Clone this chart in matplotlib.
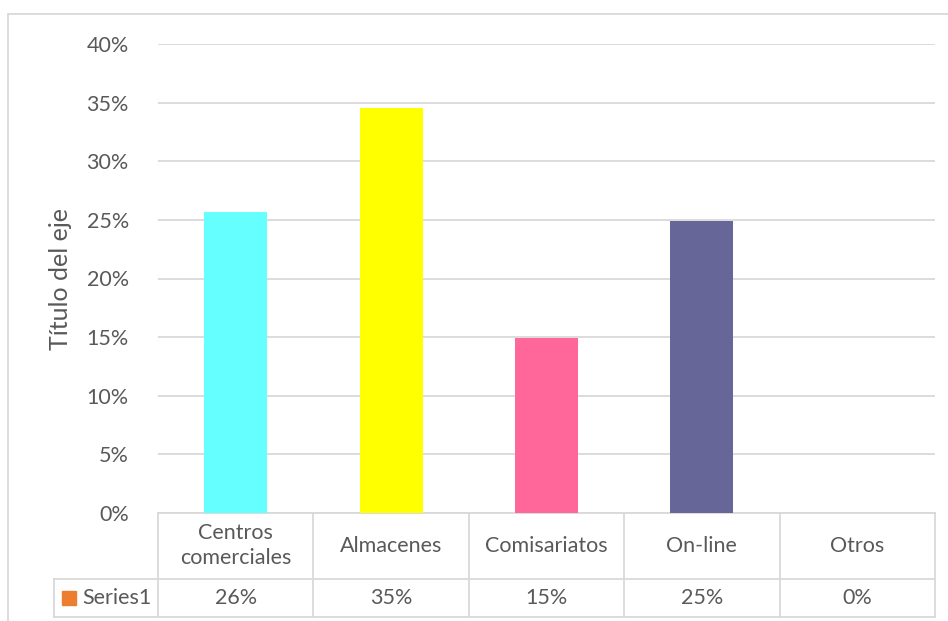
import numpy as np
from matplotlib import pyplot as plt
from matplotlib.patches import Rectangle

# datos
categorias = ["Centros\ncomerciales", "Almacenes", "Comisariatos", "On-line", "Otros"]
valores = [0.257, 0.345, 0.149, 0.249, 0.0]
etiquetas = ["26%", "35%", "15%", "25%", "0%"]
colores = ["#66FFFF", "#FFFF00", "#FF6699", "#666699", "#4472C4"]
serie = "Series1"

plt.rcParams['font.family'] = ['Lato', 'DejaVu Sans']
gris = "#595959"
linea = "#D9D9D9"
fs = 15.5

W, H = 948, 621
fig = plt.figure(figsize=(W / 100, H / 100), dpi=100)
ax = fig.add_axes([158 / W, 1 - 513 / H, (935 - 158) / W, (513 - 44) / H])

x = np.arange(len(categorias))
ax.bar(x, valores, width=0.405, color=colores, zorder=3)

ax.set_xlim(-0.5, len(categorias) - 0.5)
ax.set_ylim(0, 0.40)
ax.set_yticks(np.arange(0, 0.41, 0.05))
ax.set_yticklabels(["%d%%" % round(v * 100) for v in np.arange(0, 0.41, 0.05)])
ax.tick_params(axis='y', length=0, pad=21, labelsize=fs, labelcolor=gris)
ax.set_xticks([])
ax.grid(axis='y', color=linea, linewidth=1.3, zorder=0)
for s in ax.spines.values():
    s.set_visible(False)
ax.set_ylabel("Título del eje", fontsize=18, color=gris, va='center')
ax.yaxis.set_label_coords((60 - 158) / 777, 0.5)

# tabla de datos debajo del eje
tr = ax.get_xaxis_transform()
alto = 469.0
y1 = -(578.7 - 513) / alto
y2 = -(616.7 - 513) / alto
izq = -0.5 - (158 - 54) / (935 - 158) * len(categorias)
kw = dict(transform=tr, clip_on=False, color=linea, linewidth=1.3)
ax.plot([-0.5, len(categorias) - 0.5], [0, 0], **kw)
ax.plot([izq, len(categorias) - 0.5], [y1, y1], **kw)
ax.plot([izq, len(categorias) - 0.5], [y2, y2], **kw)
ax.plot([izq, izq], [y1, y2], **kw)
for i in range(len(categorias) + 1):
    ax.plot([i - 0.5, i - 0.5], [0, y2], **kw)
for i, c in enumerate(categorias):
    ax.text(i, y1 / 2, c, transform=tr, ha='center', va='center', fontsize=fs,
            color=gris, linespacing=1.3)
    ax.text(i, (y1 + y2) / 2, etiquetas[i], transform=tr, ha='center', va='center',
            fontsize=fs, color=gris)
ax.text(izq + 0.18, (y1 + y2) / 2, serie, transform=tr, ha='left', va='center',
        fontsize=fs, color=gris)
ax.add_patch(Rectangle((izq + 0.051, (y1 + y2) / 2 - 0.015), 0.09, 0.03,
                       transform=tr, clip_on=False, color="#ED7D31"))

# marco del grafico
fig.add_artist(Rectangle((8 / W, -0.01), 1.0, (H - 14) / H + 0.01, transform=fig.transFigure,
                         fill=False, edgecolor=linea, linewidth=1.3))

fig.savefig("out.png", dpi=100)
